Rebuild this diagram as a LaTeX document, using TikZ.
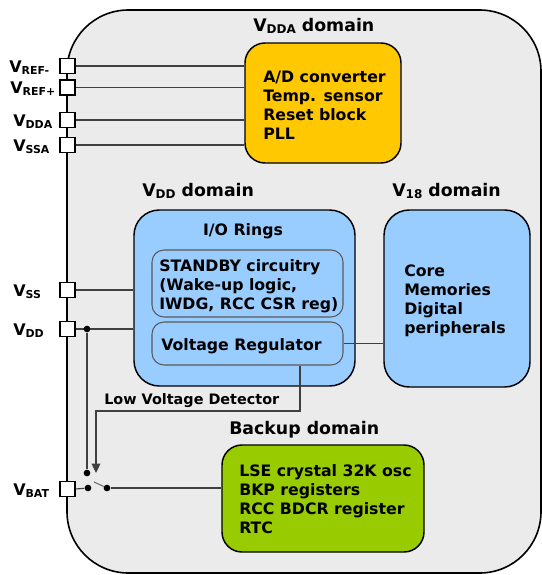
\documentclass[tikz,border=0pt]{standalone}
\usepackage{fontspec}
\setmainfont{DejaVu Sans}
\usetikzlibrary{arrows.meta}
\definecolor{chipgray}{HTML}{EBEBEB}
\definecolor{vddayel}{HTML}{FFC800}
\definecolor{vddblue}{HTML}{99CCFF}
\definecolor{bkgreen}{HTML}{99CC00}
\definecolor{wiregray}{HTML}{404040}
\newcommand\pinlab[1]{{\fontsize{12}{12}\selectfont V}{\fontsize{8.2}{8.2}\selectfont\raisebox{-1.6pt}{#1}}}
\newcommand\titlab[2]{{\fontsize{13}{13}\selectfont V}{\fontsize{9}{9}\selectfont\raisebox{-1.8pt}{#1}}{\fontsize{13}{13}\selectfont #2}}
\tikzset{
  chipbox/.style={draw=black, line width=1.2pt, fill=chipgray, rounded corners=46pt, inner sep=0pt},
  domainbox/.style={draw=black, line width=1.1pt, rounded corners=#1, inner sep=0pt},
  subbox/.style={draw=black!65, line width=0.8pt, fill=vddblue, rounded corners=9pt, inner sep=0pt},
  pinbox/.style={draw=black, line width=1.1pt, fill=white, minimum size=11pt, inner sep=0pt},
  boxtext/.style={font=\fontsize{11.8}{14.25}\selectfont\bfseries, align=left, inner sep=0pt, anchor=base west},
  titletext/.style={font=\bfseries, inner sep=0pt, anchor=base west},
  pintext/.style={font=\bfseries, inner sep=0pt, anchor=base west},
  wire/.style={draw=wiregray, line width=0.85pt},
  dot/.style={circle, fill=black, minimum size=5pt, inner sep=0pt}
}
\begin{document}
\begin{tikzpicture}[x=0.75pt, y=-0.75pt]
\useasboundingbox (0,0) rectangle (542,575);
% outer chip
\node[chipbox, minimum width=355.5pt, minimum height=422.25pt] (chip) at (304,291.5) {};
% domain boxes
\node[domainbox=15pt, fill=vddayel, minimum width=117pt, minimum height=90pt] (adc) at (323,103) {};
\node[domainbox=19pt, fill=vddblue, minimum width=165.75pt, minimum height=132pt] (io) at (244.5,298) {};
\node[subbox, minimum width=143.25pt, minimum height=50.25pt] (stby) at (247.5,283.5) {};
\node[subbox, minimum width=143.25pt, minimum height=32.25pt] (vreg) at (247.5,343.5) {};
\node[domainbox=19pt, fill=vddblue, minimum width=109.5pt, minimum height=132.75pt] (core) at (457,298.5) {};
\node[domainbox=15pt, fill=bkgreen, minimum width=151.5pt, minimum height=80.25pt] (bkp) at (323,498.5) {};
% box texts (base anchor = baseline of the last line)
\node[boxtext] (adct) at (263,139) {A/D converter\\Temp. sensor\\Reset block\\PLL};
\node[font=\fontsize{11.8}{14.25}\selectfont\bfseries, inner sep=0pt, anchor=base] (iot) at (243,235) {I/O Rings};
\node[boxtext] (stbyt) at (159,309) {STANDBY circuitry\\(Wake-up logic,\\IWDG, RCC CSR reg)};
\node[boxtext] (vregt) at (161,350) {Voltage Regulator};
\node[boxtext] (coret) at (404,333) {Core\\Memories\\Digital\\peripherals};
\node[boxtext] (bkpt) at (239,533) {LSE crystal 32K osc\\BKP registers\\RCC BDCR register\\RTC};
% titles
\node[titletext] (tvdda) at (253,31.5) {\titlab{DDA}{ domain}};
\node[titletext] (tvdd) at (142,196.5) {\titlab{DD}{ domain}};
\node[titletext] (tv18) at (392,196.5) {\titlab{18}{ domain}};
\node[titletext, font=\fontsize{13}{13}\selectfont\bfseries] (tbkp) at (229,434) {Backup domain};
\node[titletext, font=\fontsize{10.8}{10.8}\selectfont\bfseries] (tlvd) at (104,404) {Low Voltage Detector};
% pins
\node[pinbox] (prefm) at (67.5,66) {};
\node[pinbox] (prefp) at (67.5,87.5) {};
\node[pinbox] (pvdda) at (67.5,120) {};
\node[pinbox] (pvssa) at (67.5,145) {};
\node[pinbox] (pvss) at (67.5,290) {};
\node[pinbox] (pvdd) at (67.5,329) {};
\node[pinbox] (pvbat) at (67.5,489) {};
% pin labels
\node[pintext] (lrefm) at (9,72) {\pinlab{REF-}};
\node[pintext] (lrefp) at (10,93.5) {\pinlab{REF+}};
\node[pintext] (lvdda) at (13,126) {\pinlab{DDA}};
\node[pintext] (lvssa) at (13,151) {\pinlab{SSA}};
\node[pintext] (lvss) at (13,296) {\pinlab{SS}};
\node[pintext] (lvdd) at (13,335) {\pinlab{DD}};
\node[pintext] (lvbat) at (13,495) {\pinlab{BAT}};
% wires to ADC
\draw[wire] (prefm.east) -- (prefm.east -| adc.west);
\draw[wire] (prefp.east) -- (prefp.east -| adc.west);
\draw[wire] (pvdda.east) -- (pvdda.east -| adc.west);
\draw[wire] (pvssa.east) -- (pvssa.east -| adc.west);
% wires to IO
\draw[wire] (pvss.east) -- (pvss.east -| io.west);
\draw[wire] (pvdd.east) -- (pvdd.east -| io.west);
% switch
\node[dot] (dvdd) at (87,329) {};
\node[dot] (swtop) at (87,473) {};
\node[dot] (swleft) at (88,488) {};
\node[dot] (swright) at (107,488) {};
\coordinate (lever) at (94,482);
\draw[wire] (dvdd) -- (swtop);
\draw[wire] (pvbat.east) -- (swleft);
\draw[wire, draw=black!55] (lever) -- (swright);
\draw[wire] (swright) -- (swright -| bkp.west);
% regulator to core
\draw[wire] (vreg.east |- vreg.center) -- (core.west |- vreg.center);
% low voltage detector
\coordinate (lvdtip) at (96,473);
\draw[wire, -{Triangle[length=7pt, width=6.5pt]}] (vreg.south -| 300,0) -- (300,411) -- (96,411) -- (lvdtip);
\end{tikzpicture}
\end{document}
